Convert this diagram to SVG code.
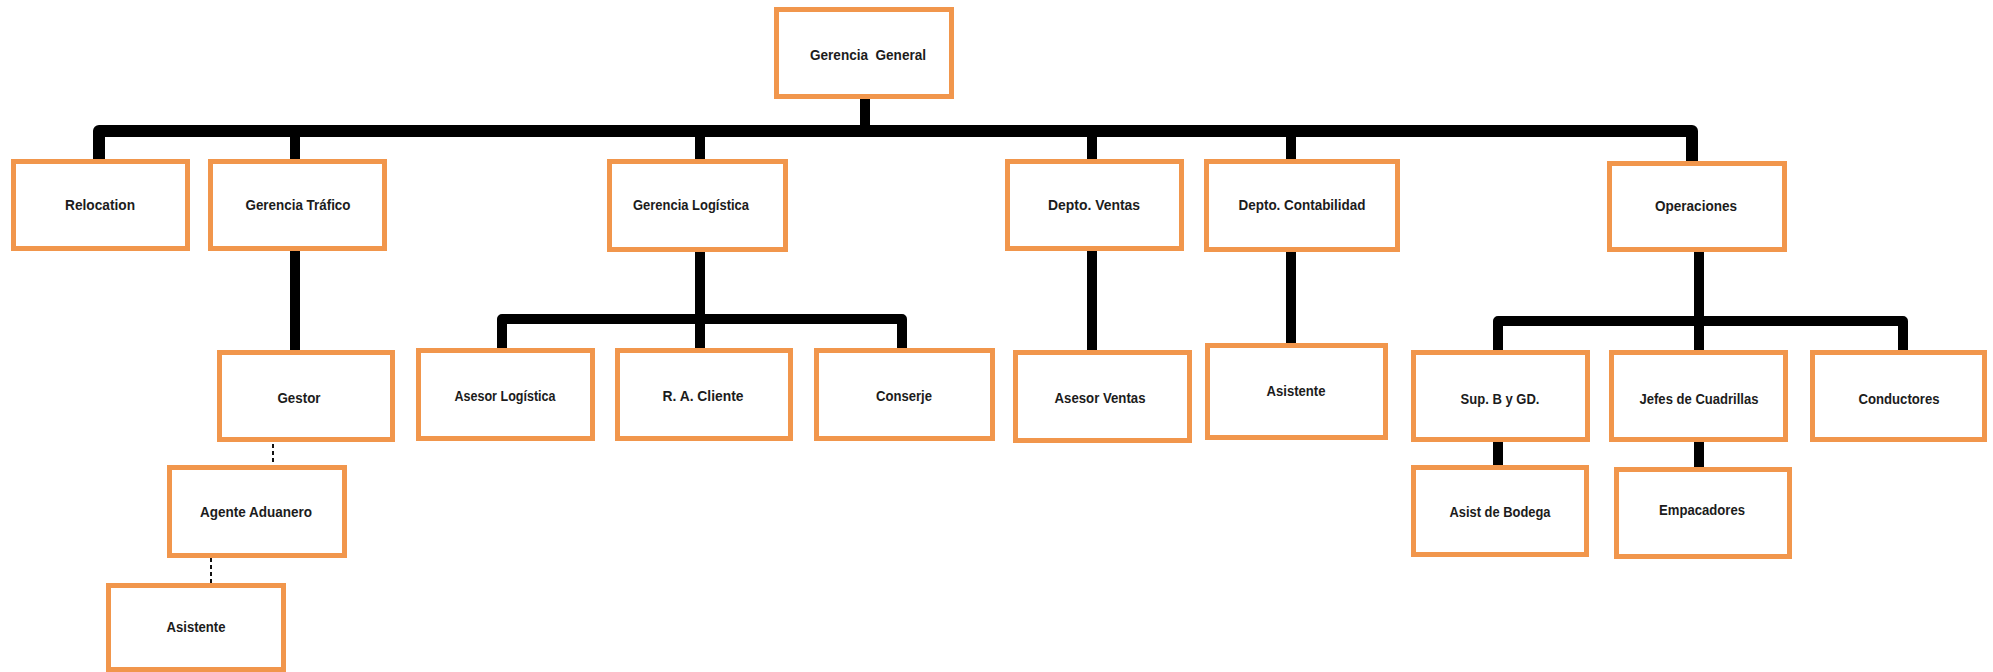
<svg xmlns="http://www.w3.org/2000/svg" width="1993" height="672" viewBox="0 0 1993 672">
<style>
.box{fill:#fff;stroke:#F1964C;stroke-width:5}
.t{font-family:"Liberation Sans",Arial,sans-serif;font-weight:bold;font-size:15px;fill:#1c1c1c;text-anchor:middle;white-space:pre}
.ln{fill:none;stroke:#000;stroke-width:10;stroke-linejoin:round}
.bus{fill:none;stroke:#000;stroke-width:12;stroke-linejoin:round}
.dash{fill:none;stroke:#111;stroke-width:2;stroke-dasharray:4 3}
</style>
<rect width="1993" height="672" fill="#fff"/>
<g id="connectors">
<line class="ln" x1="865" y1="97" x2="865" y2="128"/>
<path class="bus" d="M99,161 V131 H1692 V163"/>
<line class="ln" x1="295" y1="131" x2="295" y2="161"/>
<line class="ln" x1="700" y1="131" x2="700" y2="161"/>
<line class="ln" x1="1092" y1="131" x2="1092" y2="161"/>
<line class="ln" x1="1291" y1="131" x2="1291" y2="161"/>
<line class="ln" x1="295" y1="249" x2="295" y2="352"/>
<line class="ln" x1="700" y1="250" x2="700" y2="350"/>
<path class="ln" d="M502,350 V319 H902 V350"/>
<line class="ln" x1="1092" y1="249" x2="1092" y2="352"/>
<line class="ln" x1="1291" y1="250" x2="1291" y2="345"/>
<line class="ln" x1="1699" y1="250" x2="1699" y2="352"/>
<path class="ln" d="M1498,352 V321 H1903 V352"/>
<line class="ln" x1="1498" y1="440" x2="1498" y2="467"/>
<line class="ln" x1="1699" y1="440" x2="1699" y2="469"/>
<line class="dash" x1="273" y1="444" x2="273" y2="465"/>
<line class="dash" x1="211" y1="558" x2="211" y2="583"/>
</g>
<g id="gerencia-general"><rect class="box" x="776.5" y="9.5" width="175" height="87"/><text class="t" x="868" y="60" textLength="116" lengthAdjust="spacingAndGlyphs">Gerencia  General</text></g>
<g id="relocation"><rect class="box" x="13.5" y="161.5" width="174" height="87"/><text class="t" x="100" y="210" textLength="70" lengthAdjust="spacingAndGlyphs">Relocation</text></g>
<g id="gerencia-trafico"><rect class="box" x="210.5" y="161.5" width="174" height="87"/><text class="t" x="298" y="210" textLength="105" lengthAdjust="spacingAndGlyphs">Gerencia Tráfico</text></g>
<g id="gerencia-logistica"><rect class="box" x="609.5" y="161.5" width="176" height="88"/><text class="t" x="691" y="210" textLength="116" lengthAdjust="spacingAndGlyphs">Gerencia Logística</text></g>
<g id="depto-ventas"><rect class="box" x="1007.5" y="161.5" width="174" height="87"/><text class="t" x="1094" y="210" textLength="92" lengthAdjust="spacingAndGlyphs">Depto. Ventas</text></g>
<g id="depto-contabilidad"><rect class="box" x="1206.5" y="161.5" width="191" height="88"/><text class="t" x="1302" y="210" textLength="127" lengthAdjust="spacingAndGlyphs">Depto. Contabilidad</text></g>
<g id="operaciones"><rect class="box" x="1609.5" y="163.5" width="175" height="86"/><text class="t" x="1696" y="211" textLength="82" lengthAdjust="spacingAndGlyphs">Operaciones</text></g>
<g id="gestor"><rect class="box" x="219.5" y="352.5" width="173" height="87"/><text class="t" x="299" y="403" textLength="43" lengthAdjust="spacingAndGlyphs">Gestor</text></g>
<g id="asesor-logistica"><rect class="box" x="418.5" y="350.5" width="174" height="88"/><text class="t" x="505" y="401" textLength="101" lengthAdjust="spacingAndGlyphs">Asesor Logística</text></g>
<g id="ra-cliente"><rect class="box" x="617.5" y="350.5" width="173" height="88"/><text class="t" x="703" y="401" textLength="81" lengthAdjust="spacingAndGlyphs">R. A. Cliente</text></g>
<g id="conserje"><rect class="box" x="816.5" y="350.5" width="176" height="88"/><text class="t" x="904" y="401" textLength="56" lengthAdjust="spacingAndGlyphs">Conserje</text></g>
<g id="asesor-ventas"><rect class="box" x="1015.5" y="352.5" width="174" height="88"/><text class="t" x="1100" y="403" textLength="91" lengthAdjust="spacingAndGlyphs">Asesor Ventas</text></g>
<g id="asistente-contabilidad"><rect class="box" x="1207.5" y="345.5" width="178" height="92"/><text class="t" x="1296" y="396" textLength="59" lengthAdjust="spacingAndGlyphs">Asistente</text></g>
<g id="sup-b-gd"><rect class="box" x="1413.5" y="352.5" width="174" height="87"/><text class="t" x="1500" y="404" textLength="79" lengthAdjust="spacingAndGlyphs">Sup. B y GD.</text></g>
<g id="jefes-cuadrillas"><rect class="box" x="1611.5" y="352.5" width="174" height="87"/><text class="t" x="1699" y="404" textLength="119" lengthAdjust="spacingAndGlyphs">Jefes de Cuadrillas</text></g>
<g id="conductores"><rect class="box" x="1812.5" y="352.5" width="172" height="87"/><text class="t" x="1899" y="404" textLength="81" lengthAdjust="spacingAndGlyphs">Conductores</text></g>
<g id="agente-aduanero"><rect class="box" x="169.5" y="467.5" width="175" height="88"/><text class="t" x="256" y="517" textLength="112" lengthAdjust="spacingAndGlyphs">Agente Aduanero</text></g>
<g id="asist-bodega"><rect class="box" x="1413.5" y="467.5" width="173" height="87"/><text class="t" x="1500" y="517" textLength="101" lengthAdjust="spacingAndGlyphs">Asist de Bodega</text></g>
<g id="empacadores"><rect class="box" x="1616.5" y="469.5" width="173" height="87"/><text class="t" x="1702" y="515" textLength="86" lengthAdjust="spacingAndGlyphs">Empacadores</text></g>
<g id="asistente"><rect class="box" x="108.5" y="585.5" width="175" height="84"/><text class="t" x="196" y="632" textLength="59" lengthAdjust="spacingAndGlyphs">Asistente</text></g>
</svg>
